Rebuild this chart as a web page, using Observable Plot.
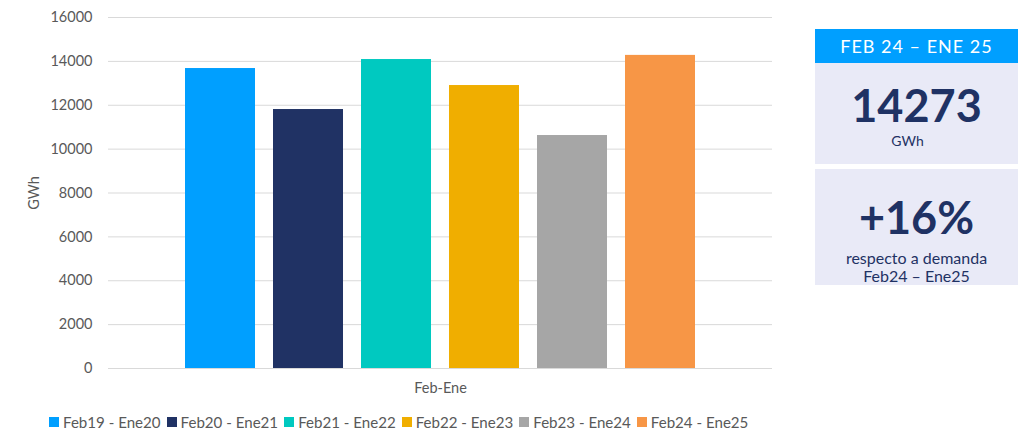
<!DOCTYPE html>
<html>
<head>
<meta charset="utf-8">
<script src="https://cdn.jsdelivr.net/npm/d3@7"></script>
<script src="https://cdn.jsdelivr.net/npm/@observablehq/plot@0.6"></script>
<style>
  html, body { margin: 0; padding: 0; background: #fff; }
  #root { position: relative; width: 1029px; height: 433px; overflow: hidden; font-family: Lato, "Open Sans", sans-serif; }
  #chart { position: absolute; left: 0; top: 0; }
  #legend { position: absolute; left: 49px; top: 405px; }
  #legend .lg-swatches { font-family: Lato, sans-serif; font-size: 15.1px; color: #595959; margin: 0; }
  #legend .lg-swatches-wrap { min-height: 33px; flex-wrap: nowrap; }
  #legend .lg-swatch { margin-right: 6px; }
  #legend .lg-swatch > svg { margin-right: 4px; }
  .box { position: absolute; left: 815px; width: 203px; text-align: center; color: #1f3264; }
  #hdr { top: 29px; height: 34px; background: #009fff; color: #fff; font-size: 18px; letter-spacing: 1px; line-height: 34px; }
  #b1 { top: 63px; height: 101px; background: #e9eaf7; }
  #b2 { top: 169px; height: 116px; background: #e9eaf7; overflow: visible; }
  .big { position: absolute; left: 0; width: 100%; font-weight: bold; font-size: 45px; line-height: 46px; }
  .small { position: absolute; left: 0; width: 100%; font-size: 14px; line-height: 18px; }
  .mid { position: absolute; left: 0; width: 100%; font-size: 16px; line-height: 19px; }
</style>
</head>
<body>
<div id="root">
  <div id="chart"></div>
  <div id="legend"></div>
  <div class="box" id="hdr">FEB 24 – ENE 25</div>
  <div class="box" id="b1">
    <div class="big" style="top:19px">14273</div>
    <div class="small" style="top:69px; left:-9px">GWh</div>
  </div>
  <div class="box" id="b2">
    <div class="big" style="top:25px">+16%</div>
    <div class="mid" style="top:79px">respecto a demanda</div>
    <div class="mid" style="top:97px">Feb24 – Ene25</div>
  </div>
</div>
<script>
const group = "Feb-Ene";
const periods = ["Feb19 - Ene20", "Feb20 - Ene21", "Feb21 - Ene22", "Feb22 - Ene23", "Feb23 - Ene24", "Feb24 - Ene25"];
const demand = [13674, 11805, 14084, 12899, 10620, 14273];
const colors = ["#009fff", "#203264", "#00c9c0", "#f0ae00", "#a6a6a6", "#f79646"];
const yTicks = [0, 2000, 4000, 6000, 8000, 10000, 12000, 14000, 16000];

const data = periods.map((p, i) => ({group, period: p, value: demand[i]}));

const chart = Plot.plot({
  width: 790,
  height: 400,
  marginLeft: 108,
  marginRight: 18,
  marginTop: 17,
  marginBottom: 32,
  style: {fontFamily: "Lato, sans-serif", fontSize: "14.5px", color: "#595959", background: "white", overflow: "visible"},
  fx: {domain: [group], padding: 0, round: false, label: null, axis: "bottom", tickSize: 0, tickPadding: 14},
  x: {domain: periods, paddingInner: 0.2045, paddingOuter: 0.875, round: false, axis: null},
  y: {domain: [0, 16000], ticks: yTicks, tickFormat: d => String(d), label: "GWh", labelAnchor: "center", labelArrow: "none", tickSize: 0, tickPadding: 16, labelOffset: 80},
  color: {domain: periods, range: colors},
  marks: [
    Plot.gridY(yTicks, {stroke: "#d9d9d9", strokeOpacity: 1}),
    Plot.barY(data, {fx: "group", x: "period", y: "value", fill: "period"})
  ]
});
document.getElementById("chart").appendChild(chart);

const legend = Plot.legend({
  color: {domain: periods, range: colors},
  className: "lg",
  swatchSize: 10
});
document.getElementById("legend").appendChild(legend);
</script>
</body>
</html>
